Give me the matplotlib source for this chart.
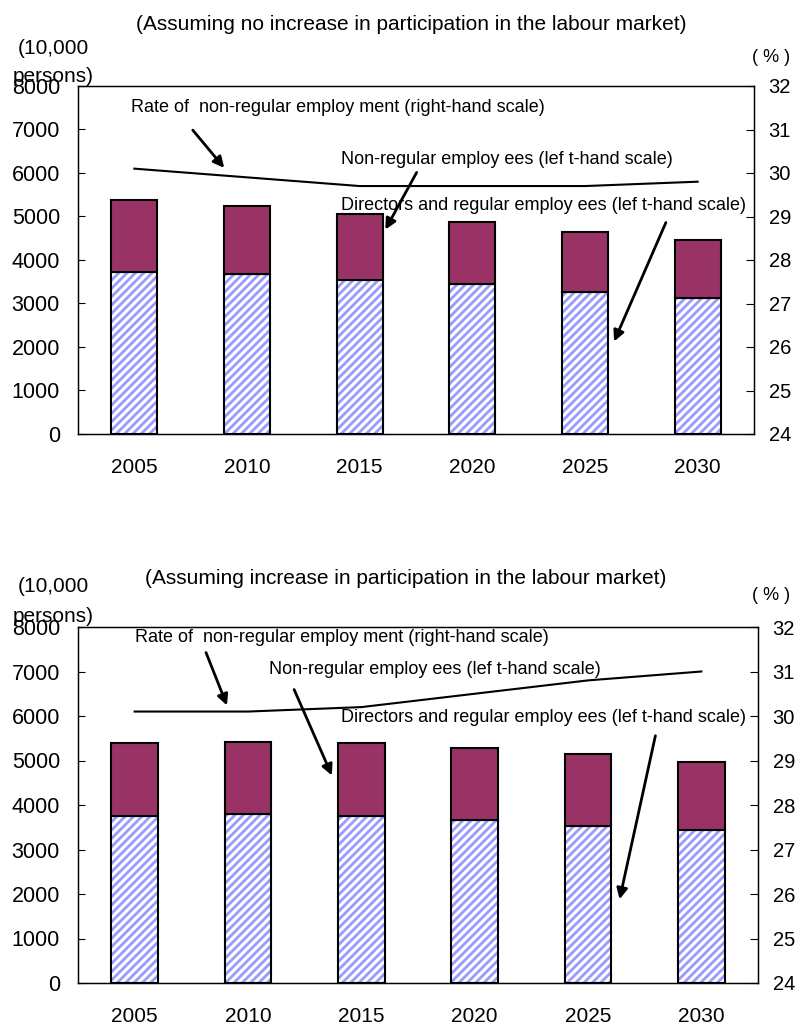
import matplotlib
matplotlib.use("Agg")
import numpy as np
import matplotlib.pyplot as plt
from matplotlib.patches import FancyArrowPatch

plt.rcParams['font.family'] = ['Liberation Sans', 'DejaVu Sans']
plt.rcParams['hatch.linewidth'] = 2.0

years = ['2005', '2010', '2015', '2020', '2025', '2030']

# no increase in labour market participation (10,000 persons / %)
regular_a = [3720, 3670, 3540, 3450, 3260, 3120]
nonregular_a = [1660, 1570, 1520, 1430, 1390, 1340]
rate_a = [30.1, 29.9, 29.7, 29.7, 29.7, 29.8]

# increase in labour market participation
regular_b = [3760, 3800, 3760, 3670, 3520, 3430]
nonregular_b = [1630, 1620, 1630, 1610, 1630, 1540]
rate_b = [30.1, 30.1, 30.2, 30.5, 30.8, 31.0]

W, H = 799, 1025
PURPLE = '#993366'
HATCH = '#9a9aff'


def px(x, y):
    # pixel position (from top-left) to figure fraction
    return (x / W, 1 - y / H)


def draw_panel(ax, regular, nonregular, rate):
    x = np.arange(len(years)) + 0.5
    width = 0.41
    ax.bar(x, regular, width, color='white', edgecolor=HATCH, hatch='////', linewidth=0)
    ax.bar(x, regular, width, fill=False, edgecolor='black', linewidth=1.5)
    ax.bar(x, nonregular, width, bottom=regular, color=PURPLE, edgecolor='black', linewidth=1.5)
    ax.set_xlim(0, len(years))
    ax.set_ylim(0, 8000)
    ax.set_yticks(range(0, 8001, 1000))
    ax.set_xticks(x)
    ax.set_xticklabels(years)
    ax.tick_params(axis='x', length=0, pad=17, labelsize=15)
    ax.tick_params(axis='y', direction='in', length=5, pad=13, labelsize=15.5)
    for s in ax.spines.values():
        s.set_linewidth(1.0)

    ax2 = ax.twinx()
    ax2.plot(x, rate, color='black', linewidth=1.5)
    ax2.set_ylim(24, 32)
    ax2.set_yticks(range(24, 33))
    ax2.tick_params(axis='y', direction='in', length=6, pad=10.5, labelsize=14.5)
    return ax2


def arrow(fig, tail, head):
    fig.add_artist(FancyArrowPatch(px(*tail), px(*head), transform=fig.transFigure,
                                   arrowstyle='-|>', color='black', lw=2, mutation_scale=16))


fig = plt.figure(figsize=(W / 100, H / 100), dpi=100)

ax_top = fig.add_axes([78 / W, 1 - 434 / H, 676 / W, 348 / H])
ax_bot = fig.add_axes([78 / W, 1 - 983 / H, 680 / W, 356 / H])
draw_panel(ax_top, regular_a, nonregular_a, rate_a)
draw_panel(ax_bot, regular_b, nonregular_b, rate_b)

rate_txt = 'Rate of  non-regular employ ment (right-hand scale)'
nonreg_txt = 'Non-regular employ ees (lef t-hand scale)'
reg_txt = 'Directors and regular employ ees (lef t-hand scale)'
fs = 13
tfs = 15

# upper panel texts
fig.text(*px(411, 24), '(Assuming no increase in participation in the labour market)',
         ha='center', va='center', fontsize=tfs)
fig.text(*px(18, 48), '(10,000', ha='left', va='center', fontsize=15)
fig.text(*px(13, 77), 'persons)', ha='left', va='center', fontsize=15)
fig.text(*px(771, 57), '( % )', ha='center', va='center', fontsize=13)
fig.text(*px(131, 108), rate_txt, ha='left', va='center', fontsize=fs)
fig.text(*px(341, 160), nonreg_txt, ha='left', va='center', fontsize=fs)
fig.text(*px(341, 206), reg_txt, ha='left', va='center', fontsize=fs)
arrow(fig, (191, 128), (226, 170))
arrow(fig, (418, 170), (384, 232))
arrow(fig, (667, 220), (613, 344))

# lower panel texts
fig.text(*px(406, 578), '(Assuming increase in participation in the labour market)',
         ha='center', va='center', fontsize=tfs)
fig.text(*px(18, 587), '(10,000', ha='left', va='center', fontsize=15)
fig.text(*px(13, 617), 'persons)', ha='left', va='center', fontsize=15)
fig.text(*px(771, 595), '( % )', ha='center', va='center', fontsize=13)
fig.text(*px(135, 637), rate_txt, ha='left', va='center', fontsize=fs)
fig.text(*px(269, 670), nonreg_txt, ha='left', va='center', fontsize=fs)
fig.text(*px(341, 717), reg_txt, ha='left', va='center', fontsize=fs)
arrow(fig, (205, 650), (228, 708))
arrow(fig, (293, 687), (333, 778))
arrow(fig, (656, 733), (619, 902))

fig.savefig('out.png', dpi=100)
